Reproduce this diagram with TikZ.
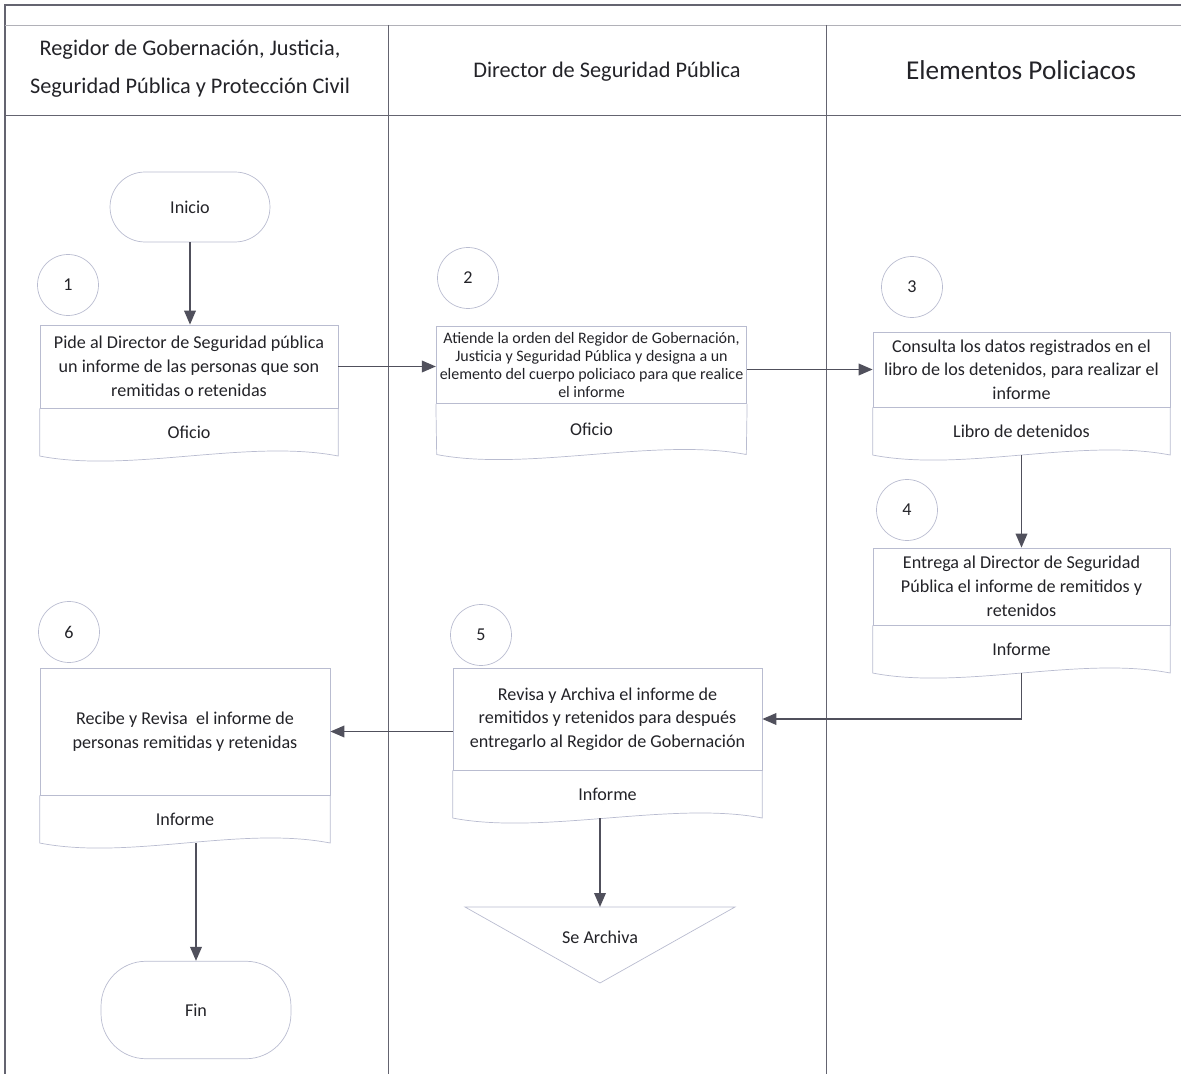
\documentclass[tikz,border=0pt]{standalone}
\usepackage{fontspec}
\setmainfont{Carlito}
\usetikzlibrary{positioning,arrows.meta}
\definecolor{shp}{RGB}{185,188,208}
\definecolor{arr}{RGB}{80,80,92}
\definecolor{lane}{RGB}{100,100,112}
\definecolor{txt}{RGB}{35,35,40}

\begin{document}
\begin{tikzpicture}[x=0.02cm,y=-0.02cm,
  every node/.style={text=txt,font=\fontsize{10.3}{13.5}\selectfont},
  proc/.style={draw=shp,align=center,inner sep=2pt},
  docu/.style={minimum height=0.94cm,align=center,inner sep=0pt},
  num/.style={draw=shp,circle,minimum size=1.22cm},
  term/.style={draw=shp,rectangle},
  flow/.style={draw=arr,line width=1.1pt,-{Triangle[length=2.8mm,width=2.3mm]}},
  hdr/.style={font=\fontsize{12.7}{21.5}\selectfont,align=center}]

\useasboundingbox (0,0) rectangle (1181,1074);

% carriles
\draw[lane,line width=1.4pt] (5,1074) -- (5,5) -- (1181,5);
\draw[lane!50] (5,25) -- (1181,25);
\draw[lane] (5,115) -- (1181,115);
\draw[lane] (388,25) -- (388,1074);
\draw[lane] (826,25) -- (826,1074);

\node[hdr] (h1) at (190,69) {Regidor de Gobernación, Justicia,\\Seguridad Pública y Protección Civil};
\node[hdr] (h2) at (607,72) {Director de Seguridad Pública};
\node[hdr,font=\fontsize{15.5}{18}\selectfont] (h3) at (1021,70) {Elementos Policiacos};

% pasos
\node[term,minimum width=3.2cm,minimum height=1.4cm,rounded corners=0.7cm] (ini) at (190,207) {Inicio};

\node[num] (c1) at (68,285) {1};
\node[proc,minimum width=5.96cm,minimum height=1.66cm] (b1) at (189,366.5) {Pide al Director de Seguridad pública\\un informe de las personas que son\\remitidas o retenidas};
\node[docu,minimum width=5.96cm,below=0pt of b1] (d1) {Oficio};

\node[num] (c2) at (468,278) {2};
\node[proc,minimum width=6.18cm,minimum height=1.54cm,font=\fontsize{9.1}{10.4}\selectfont] (b2) at (591.5,365) {Atiende la orden del Regidor de Gobernación,\\Justicia y Seguridad Pública y designa a un\\elemento del cuerpo policiaco para que realice\\el informe};
\node[docu,minimum width=6.18cm,minimum height=1.0cm,below=0pt of b2] (d2) {Oficio};

\node[num] (c3) at (912,287) {3};
\node[proc,minimum width=5.94cm,minimum height=1.5cm] (b3) at (1021.5,369.5) {Consulta los datos registrados en el\\libro de los detenidos, para realizar el\\informe};
\node[docu,minimum width=5.94cm,below=0pt of b3] (d3) {Libro de detenidos};

\node[num] (c4) at (907,510) {4};
\node[proc,minimum width=5.94cm,minimum height=1.54cm] (b4) at (1021.5,586.5) {Entrega al Director de Seguridad\\Pública el informe de remitidos y\\retenidos};
\node[docu,minimum width=5.94cm,below=0pt of b4] (d4) {Informe};

\node[num] (c5) at (481,635) {5};
\node[proc,minimum width=6.18cm,minimum height=2.04cm] (b5) at (607.5,719) {Revisa y Archiva el informe de\\remitidos y retenidos para después\\entregarlo al Regidor de Gobernación};
\node[docu,minimum width=6.18cm,below=0pt of b5] (d5) {Informe};

\node[num] (c6) at (69,632) {6};
\node[proc,minimum width=5.8cm,minimum height=2.54cm] (b6) at (185,731.5) {Recibe y Revisa~ el informe de\\personas remitidas y retenidas};
\node[docu,minimum width=5.8cm,below=0pt of b6] (d6) {Informe};

\node[term,minimum width=3.8cm,minimum height=1.95cm,rounded corners=0.9cm] (fin) at (196,1010) {Fin};

\coordinate (tri) at (600,907);
\draw[shp] (465,907) -- (735,907) -- (600,983) -- cycle;
\node (arch) at (600,937) {Se Archiva};

% borde ondulado de los documentos
\foreach \p/\q in {b1/d1,b2/d2,b3/d3,b4/d4,b5/d5,b6/d6}
  \draw[shp] (\p.south west) -- (\q.south west) .. controls +(1.8cm,-0.35cm) and +(-1.8cm,0.35cm) .. (\q.south east) -- (\p.south east);

% flechas
\draw[flow] (ini.south) -- (ini.south |- b1.north);
\draw[flow] (b1.east) -- (b1.east -| b2.west);
\draw[flow] (b3.west -| b2.east) -- (b3.west);
\draw[flow] (d3.south) -- (b4.north);
\draw[flow] (d4.south) |- (b5.east);
\draw[flow] (b6.east -| b5.west) -- (b6.east);
\draw[flow] (tri |- d5.south) -- (tri);
\draw[flow] (fin.north |- d6.south) -- (fin.north);
\end{tikzpicture}
\end{document}
